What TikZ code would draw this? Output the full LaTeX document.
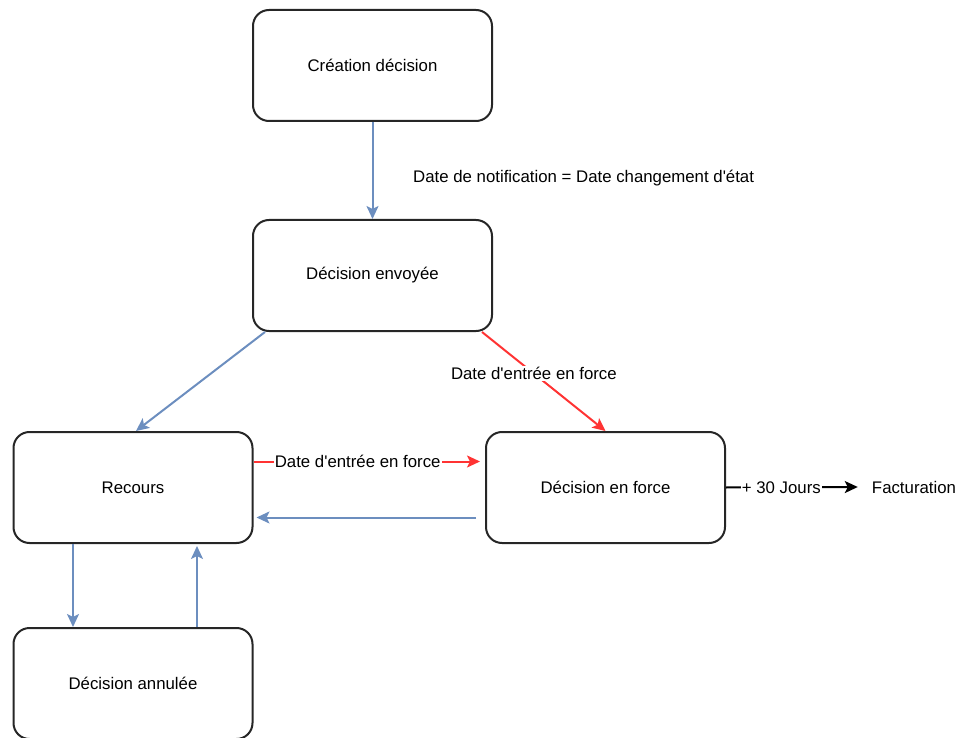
\documentclass[tikz,border=0pt]{standalone}
\usepackage{fontspec}
\setmainfont{Liberation Sans}
\usetikzlibrary{arrows.meta}
\usetikzlibrary{positioning}
\definecolor{fleche}{HTML}{6C8EBF}
\definecolor{rouge}{HTML}{FF3333}

\begin{document}
\begin{tikzpicture}[x=1pt,y=-1pt,
  etat/.style={draw=black!85,line width=2pt,rounded corners=16pt,minimum width=239pt,minimum height=111pt,inner sep=0pt,font=\fontsize{16.8}{19}\selectfont},
  lienbleu/.style={draw=fleche,line width=2pt,-{Stealth[length=13pt,width=12pt,inset=3pt]}},
  lienrouge/.style={draw=rouge,line width=2pt,-{Stealth[length=13pt,width=12pt,inset=3pt]}},
  lbl/.style={fill=white,inner sep=1pt,text=black,font=\fontsize{16.8}{19}\selectfont}]
\useasboundingbox (0,0) rectangle (959,738);

\node[etat] (cre) at (372.5,65.5) {Création décision};
\node[etat] (env) at (372.5,275.5) {Décision envoyée};
\node[etat] (rec) at (133,487.5) {Recours};
\node[etat] (frc) at (605.5,487.5) {Décision en force};
\node[etat] (ann) at (133,683.5) {Décision annulée};
\node[lbl,inner sep=0pt] (fac) at (914,487) {Facturation};

\draw[lienbleu] (cre.south) -- (env.north);
\node[lbl,anchor=west] (notif) at (412,178) {Date de notification = Date changement d\textquotesingle état};

\draw[lienbleu] ([xshift=13pt]env.south west) -- ([xshift=3pt]rec.north);
\draw[lienrouge] ([xshift=-11pt]env.south east) -- node[lbl,pos=0.42] {Date d\textquotesingle entrée en force} (frc.north);

\draw[lienrouge] ([yshift=26pt]rec.east) -- node[lbl,pos=0.46] {Date d\textquotesingle entrée en force} ([xshift=-5pt,yshift=26pt]frc.west);
\draw[lienbleu] ([xshift=-9pt,yshift=-30pt]frc.west) -- ([xshift=3pt,yshift=-30pt]rec.east);

\draw[lienbleu] ([xshift=-60pt]rec.south) -- ([xshift=-60pt]ann.north);
\draw[lienbleu] ([xshift=64pt]ann.north) -- ([xshift=64pt,yshift=-2pt]rec.south);

\draw[line width=2pt,-{Stealth[length=13pt,width=12pt,inset=3pt]}] (frc.east) -- node[lbl,pos=0.42] {+ 30 Jours} ([xshift=-14pt]fac.west);

\end{tikzpicture}
\end{document}
